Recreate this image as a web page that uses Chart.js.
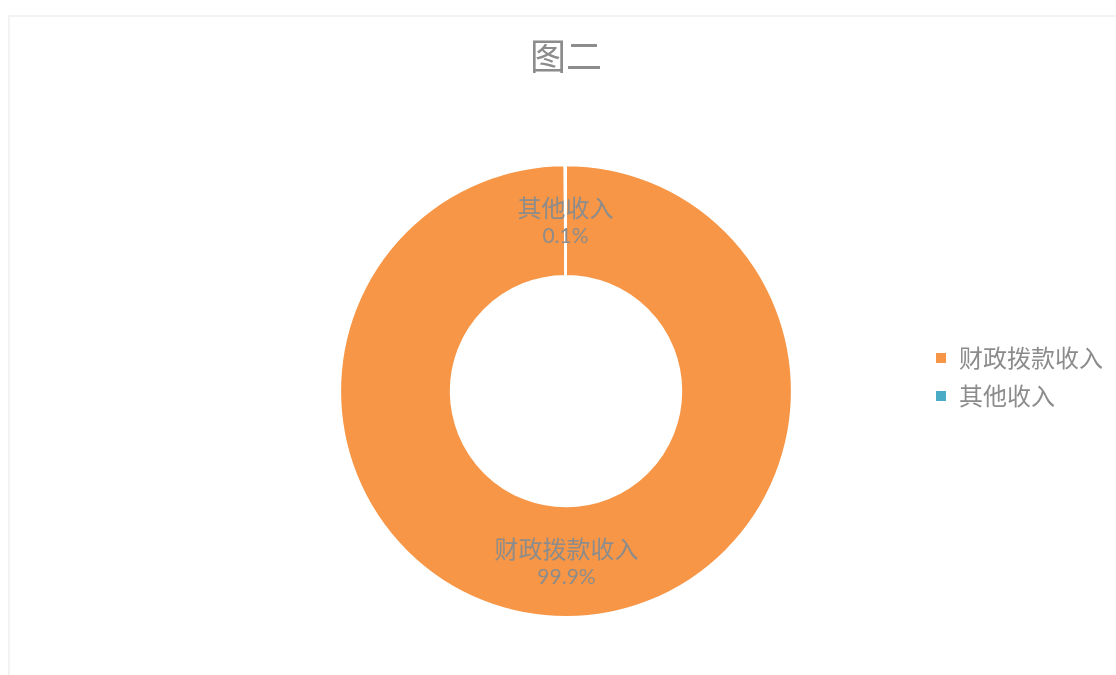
<!DOCTYPE html>
<html>
<head>
<meta charset="utf-8">
<title>图二</title>
<script src="https://cdn.jsdelivr.net/npm/chart.js@4/dist/chart.umd.min.js"></script>
<style>
  html, body { margin: 0; padding: 0; background: #ffffff; }
  #wrap { position: relative; width: 1116px; height: 675px; }
</style>
</head>
<body>
<div id="wrap"><canvas id="income-canvas"></canvas></div>
<script>
var categories = ['财政拨款收入', '其他收入'];
var shares = [99.9, 0.1];
var shareLabels = ['99.9%', '0.1%'];
var sliceColors = ['#F79646', '#4BACC6'];

var textGray = '#8c8c8c';
var cjkFont = '"Noto Sans CJK SC", "Noto Sans", sans-serif';
var numFont = 'Lato, "Noto Sans", sans-serif';

// faint outer frame like the exported chart area
var framePlugin = {
    id: 'frame',
    beforeDraw: function(chart) {
        var ctx = chart.ctx;
        ctx.save();
        ctx.strokeStyle = '#f3f3f3';
        ctx.lineWidth = 2;
        ctx.strokeRect(9, 16, chart.width + 20, chart.height + 20);
        ctx.restore();
    }
};

// category name + percentage in the middle of each ring segment
var sliceLabelPlugin = {
    id: 'sliceLabels',
    afterDatasetsDraw: function(chart) {
        var ctx = chart.ctx;
        var meta = chart.getDatasetMeta(0);
        ctx.save();
        ctx.textAlign = 'center';
        ctx.textBaseline = 'middle';
        ctx.fillStyle = textGray;
        meta.data.forEach(function(arc, i) {
            var p = arc.tooltipPosition();
            ctx.font = '24px ' + cjkFont;
            ctx.fillText(categories[i], p.x, p.y - 13);
            ctx.font = '21px ' + numFont;
            ctx.fillText(shareLabels[i], p.x, p.y + 16);
        });
        ctx.restore();
    }
};

var incomeChart = new Chart(document.getElementById('income-canvas'), {
    type: 'doughnut',
    data: {
        labels: categories,
        datasets: [{
            data: shares,
            backgroundColor: sliceColors,
            borderColor: '#ffffff',
            borderWidth: 2,
            hoverOffset: 0
        }]
    },
    options: {
        responsive: true,
        maintainAspectRatio: false,
        animation: false,
        cutout: '51%',
        layout: {
            padding: { top: 15, left: 211, right: 3, bottom: 57 }
        },
        plugins: {
            title: {
                display: true,
                fullSize: false,
                text: '图二',
                color: textGray,
                font: { family: cjkFont, size: 36, weight: 'normal' },
                padding: { top: 20, bottom: 86 }
            },
            legend: {
                position: 'right',
                // empty legend title only pushes the items down
                title: {
                    display: true,
                    text: ' ',
                    font: { size: 10 },
                    padding: { top: 109, bottom: 0 }
                },
                labels: {
                    color: textGray,
                    boxWidth: 12,
                    boxHeight: 12,
                    padding: 14,
                    font: { family: cjkFont, size: 24 }
                }
            },
            tooltip: { enabled: false }
        }
    },
    plugins: [framePlugin, sliceLabelPlugin]
});
</script>
</body>
</html>
